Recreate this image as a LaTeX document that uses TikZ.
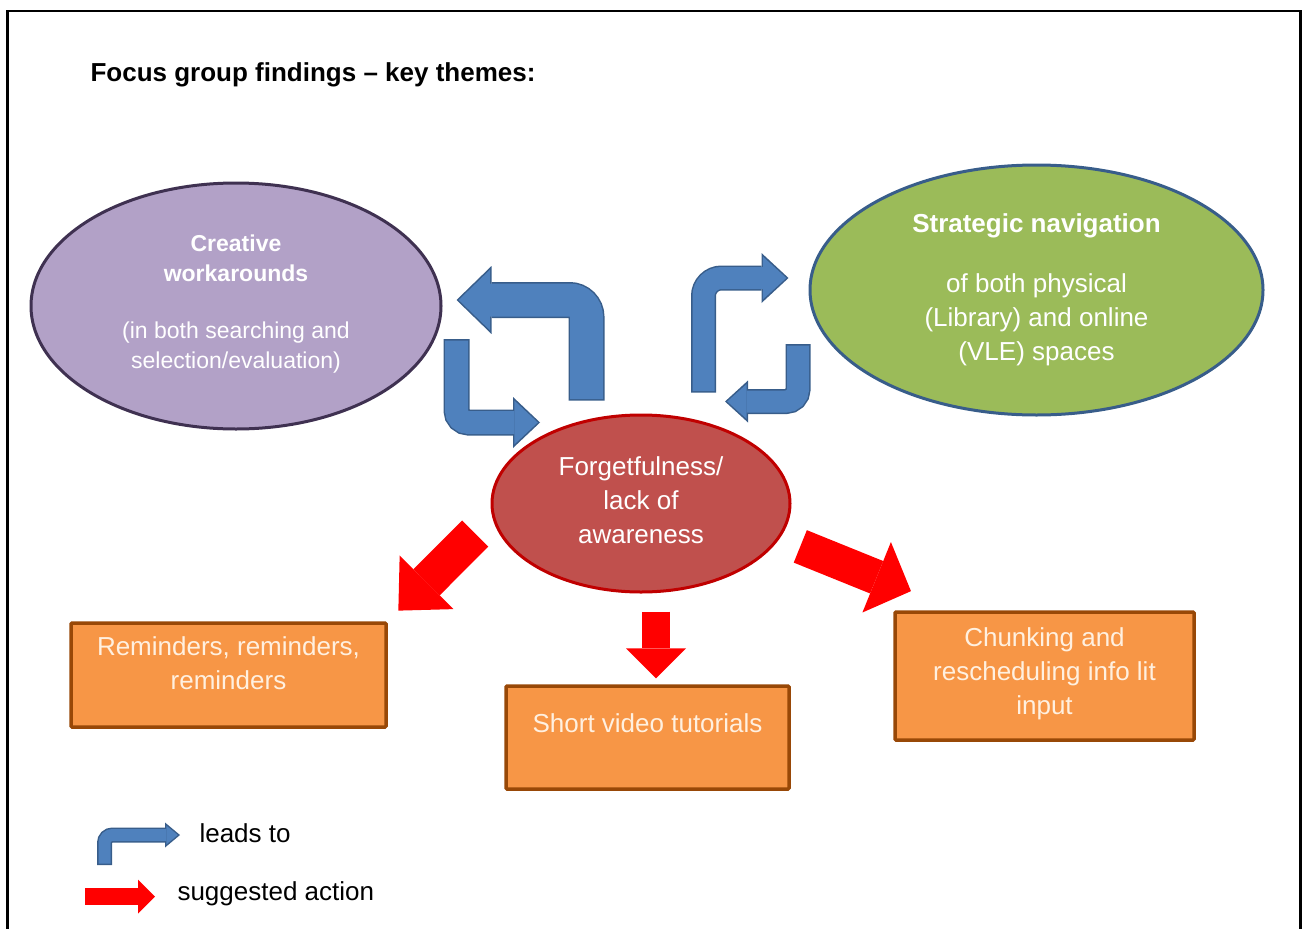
\documentclass[tikz,border=0pt]{standalone}
\usepackage{fontspec}
\setmainfont{Liberation Sans}
\usepackage{xcolor}
\usetikzlibrary{arrows.meta}
\usetikzlibrary{shapes.geometric}
\usetikzlibrary{positioning}

\definecolor{themepurple}{HTML}{B2A1C7}
\definecolor{themepurpleline}{HTML}{3F3151}
\definecolor{themegreen}{HTML}{9BBB59}
\definecolor{themered}{HTML}{C0504D}
\definecolor{themeredline}{HTML}{C00000}
\definecolor{actionorange}{HTML}{F79646}
\definecolor{actionorangeline}{HTML}{984807}
\definecolor{actionlabel}{HTML}{FFF0E0}
\definecolor{leadblue}{HTML}{4F81BD}
\definecolor{leadblueline}{HTML}{385D8A}
\definecolor{actionred}{HTML}{FF0000}

\begin{document}
\begin{tikzpicture}[
        x=1pt, y=-1pt,
        %
        theme node/.style={
            ellipse,
            draw,
            line width=3pt,
            inner sep=0pt,
            align=center,
            text=white,
            font=\fontsize{26}{34}\selectfont,
        },
        %
        action node/.style={
            rectangle,
            draw=actionorangeline,
            fill=actionorange,
            line width=3.5pt,
            rounded corners=1pt,
        },
        action text/.style={
            align=center,
            text=actionlabel,
            font=\fontsize{26}{34}\selectfont,
        },
        key text/.style={anchor=base west, font=\fontsize{26}{34}\selectfont},
        lead rim/.style={draw=leadblueline, line join=miter},
        lead body/.style={draw=leadblue, line join=miter, shorten <=1.5pt, shorten >=2.2pt},
        action edge/.style={draw=actionred, line cap=butt}
        ]

        \useasboundingbox (0,0) rectangle (1304,929);
        \draw[line width=2.5pt] (7.5,929) -- (7.5,11) -- (1300.5,11) -- (1300.5,929);

        \node[anchor=base west, font=\bfseries\fontsize{26}{34}\selectfont] (title) at (87,81) {Focus group findings – key themes:};

        % Themes

        \node[theme node, fill=themepurple, draw=themepurpleline, minimum width=410pt, minimum height=246pt,
              font=\fontsize{23}{30}\selectfont, text depth=9pt] (workaround) at (236,306)
              {\textbf{Creative}\\\textbf{workarounds}\\[27pt](in both searching and\\selection/evaluation)};
        \node[theme node, fill=themegreen, draw=leadblueline, minimum width=453pt, minimum height=250pt] (strategic) at (1036.5,290)
              {\textbf{Strategic navigation}\\[26pt]of both physical\\(Library) and online\\(VLE) spaces};
        \node[theme node, fill=themered, draw=themeredline, minimum width=298pt, minimum height=177pt, text depth=6pt] (forget) at (641,503.5)
              {Forgetfulness/\\lack of\\awareness};

        % Actions

        \node[action node, minimum width=315pt, minimum height=104pt] (remind) at (228.5,675) {};
        \node[action node, minimum width=283pt, minimum height=103pt] (video) at (647.5,737.5) {};
        \node[action node, minimum width=299pt, minimum height=128pt] (chunk) at (1044.5,676) {};
        \node[action text] (remind-text) at ([yshift=11.5pt]remind) {Reminders, reminders,\\reminders};
        \node[action text] (video-text) at ([yshift=14.5pt]video) {Short video tutorials};
        \node[action text] (chunk-text) at ([yshift=2pt]chunk) {Chunking and\\rescheduling info lit\\input};

        % Leads to

        \draw[lead rim, line width=36pt, rounded corners=17pt, -{Triangle[length=35pt,width=68pt,line width=0pt]}]
            ([shift={(-54.5,-13)}]forget.north) |- ([shift={(14,-6)}]workaround.east);
        \draw[lead body, line width=33pt, rounded corners=17pt, -{Triangle[length=31.5pt,width=61pt,line width=0pt]}]
            ([shift={(-54.5,-13)}]forget.north) |- ([shift={(14,-6)}]workaround.east);
        %
        \draw[lead rim, line width=26pt, rounded corners=12pt, -{Triangle[length=27pt,width=51pt,line width=0pt]}]
            ([shift={(14,33)}]workaround.east) |- ([shift={(-101,9)}]forget.north);
        \draw[lead body, line width=23pt, rounded corners=12pt, -{Triangle[length=23.5pt,width=44pt,line width=0pt]}]
            ([shift={(14,33)}]workaround.east) |- ([shift={(-101,9)}]forget.north);
        %
        \draw[lead rim, line width=25pt, rounded corners=18pt, -{Triangle[length=27pt,width=50pt,line width=0pt]}]
            ([shift={(62.5,-21)}]forget.north) |- ([shift={(-20,-12)}]strategic.west);
        \draw[lead body, line width=22pt, rounded corners=18pt, -{Triangle[length=23.5pt,width=43pt,line width=0pt]}]
            ([shift={(62.5,-21)}]forget.north) |- ([shift={(-20,-12)}]strategic.west);
        %
        \draw[lead rim, line width=25pt, rounded corners=12pt, -{Triangle[length=23pt,width=42pt,line width=0pt]}]
            ([shift={(-10.5,54)}]strategic.west) |- ([shift={(84,-12)}]forget.north);
        \draw[lead body, line width=22pt, rounded corners=12pt, -{Triangle[length=19.5pt,width=35pt,line width=0pt]}]
            ([shift={(-10.5,54)}]strategic.west) |- ([shift={(84,-12)}]forget.north);

        % Suggested actions

        \draw[action edge, line width=37pt, -{Triangle[length=40pt,width=76pt,line width=0pt]}, shorten <=24pt, shorten >=15pt]
            (forget.185) -- (remind.north east);
        \draw[action edge, line width=28pt, -{Triangle[length=30pt,width=60pt,line width=0pt]}, shorten <=18pt, shorten >=6pt]
            ([xshift=15pt]forget.south) -- ([xshift=8.5pt]video.north);
        \draw[action edge, line width=35pt, -{Triangle[length=37pt,width=76pt,line width=0pt]}, shorten <=22pt, shorten >=51pt]
            (forget.-14) -- ([xshift=65pt]chunk.north west);

        % Key

        \node[key text] (leads) at (196,842) {leads to};
        \node[key text] (suggests) at (174,900) {suggested action};
        \coordinate (key-lead) at (104.5,865);
        \coordinate (key-action) at (85,896.5);
        \draw[lead rim, line width=15pt, rounded corners=8pt, -{Triangle[length=15pt,width=25pt,line width=0pt]}]
            (key-lead) |- ([shift={(-16,-7)}]leads.base west);
        \draw[lead body, line width=12pt, rounded corners=8pt, -{Triangle[length=11.5pt,width=19pt,line width=0pt]}]
            (key-lead) |- ([shift={(-16,-7)}]leads.base west);
        \draw[action edge, line width=17pt, -{Triangle[length=17pt,width=34pt,line width=0pt]}]
            (key-action) -- ([xshift=-19pt]suggests.base west |- key-action);

\end{tikzpicture}
\end{document}
